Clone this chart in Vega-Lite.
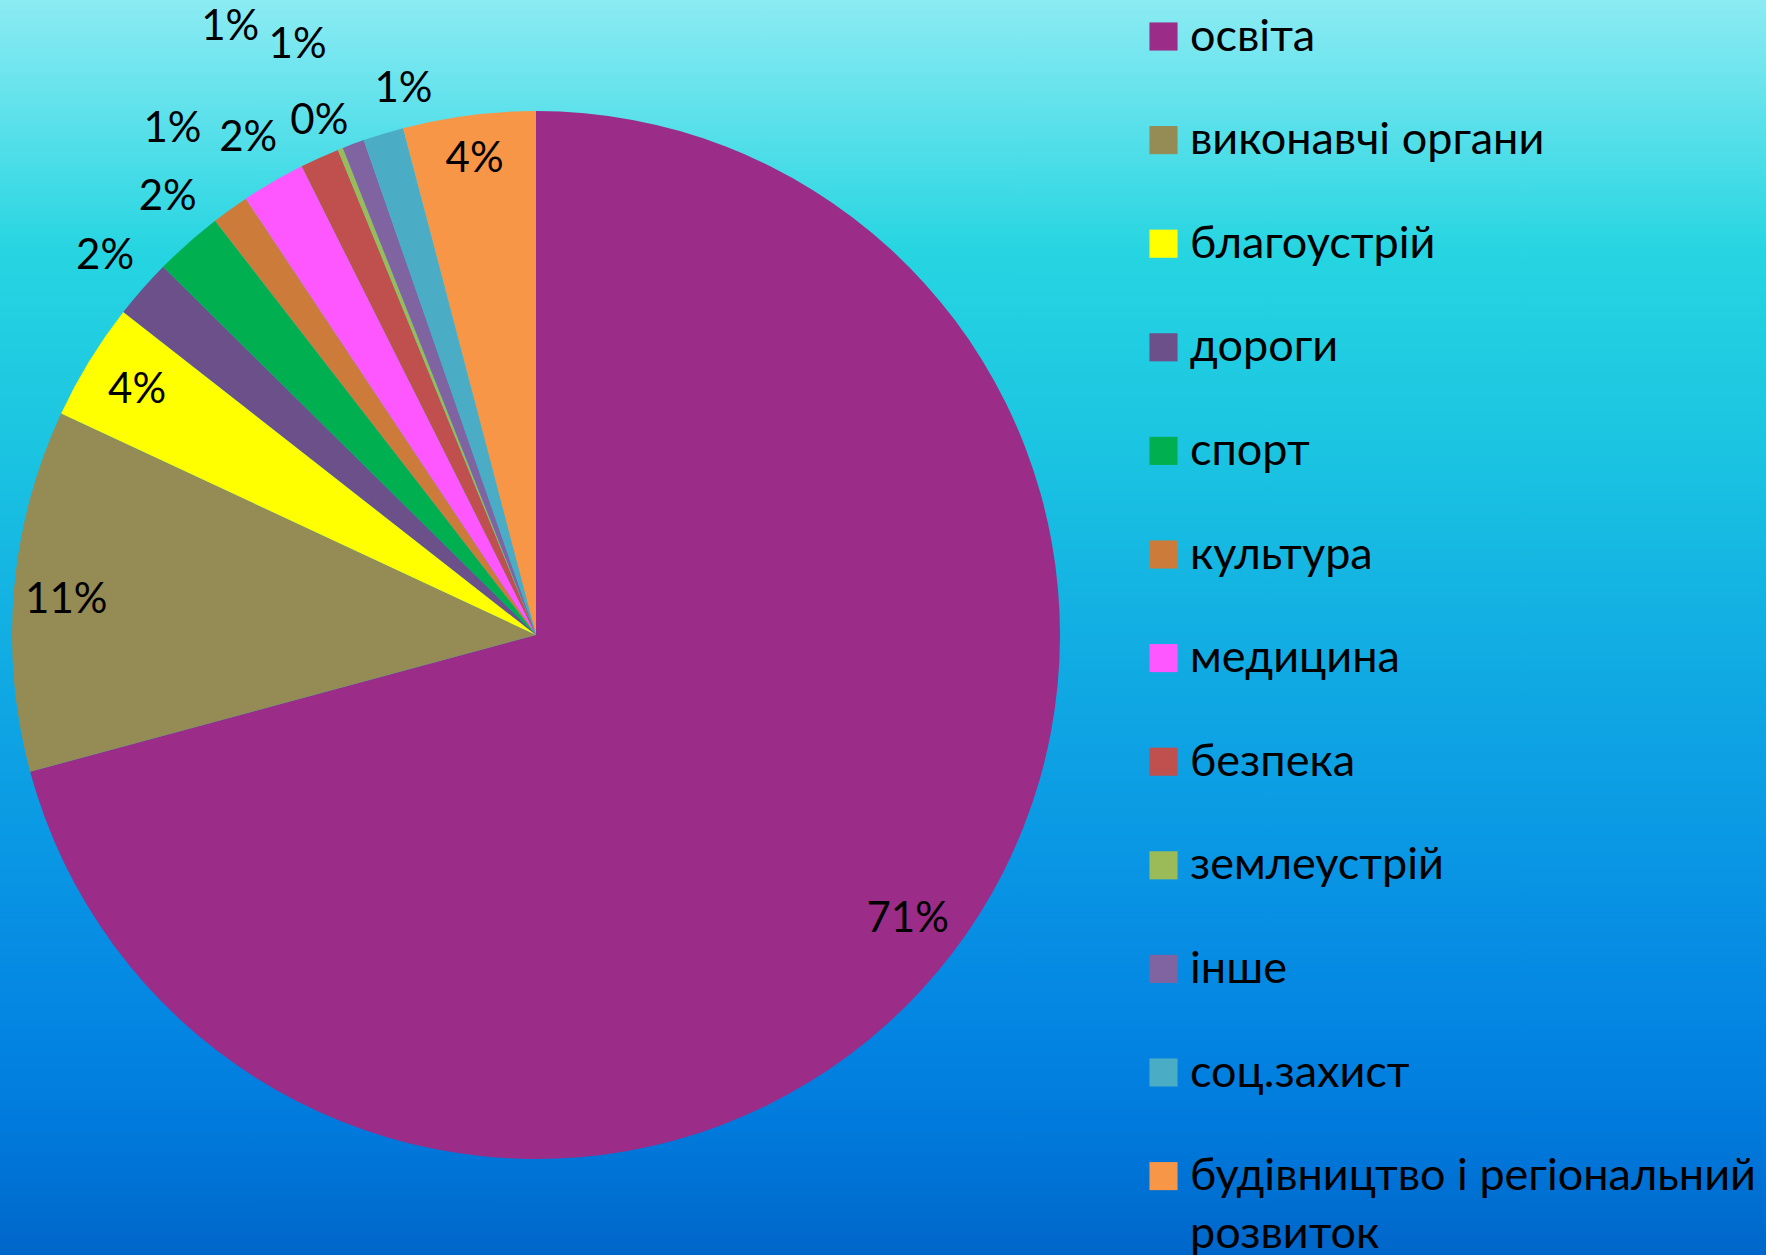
{
  "$schema": "https://vega.github.io/schema/vega-lite/v6.json",
  "width": 1766,
  "height": 1255,
  "autosize": {"type": "none"},
  "padding": 0,
  "config": {"view": {"stroke": null}, "font": "Lato"},
  "data": {
    "values": [
      {"idx": 1, "category": "освіта", "share": 0.7079},
      {"idx": 2, "category": "виконавчі органи", "share": 0.1115},
      {"idx": 3, "category": "благоустрій", "share": 0.0362},
      {"idx": 4, "category": "дороги", "share": 0.0183},
      {"idx": 5, "category": "спорт", "share": 0.0211},
      {"idx": 6, "category": "культура", "share": 0.0115},
      {"idx": 7, "category": "медицина", "share": 0.0196},
      {"idx": 8, "category": "безпека", "share": 0.0121},
      {"idx": 9, "category": "землеустрій", "share": 0.0016},
      {"idx": 10, "category": "інше", "share": 0.0068},
      {"idx": 11, "category": "соц.захист", "share": 0.0125},
      {"idx": 12, "category": "будівництво і регіональний розвиток", "share": 0.0408}
    ]
  },
  "layer": [
    {
      "data": {"values": [{}]},
      "mark": {
        "type": "rect",
        "fill": {
          "gradient": "linear", "x1": 0, "y1": 0, "x2": 0, "y2": 1,
          "stops": [
            {"offset": 0, "color": "#8CEBF3"},
            {"offset": 0.2, "color": "#26D5E1"},
            {"offset": 0.36, "color": "#1BC4E1"},
            {"offset": 0.5, "color": "#12AFE3"},
            {"offset": 0.67, "color": "#0A98E4"},
            {"offset": 0.81, "color": "#0486E3"},
            {"offset": 0.9, "color": "#007ADC"},
            {"offset": 1, "color": "#0066CA"}
          ]
        }
      },
      "encoding": {
        "x": {"value": 0}, "x2": {"value": "width"},
        "y": {"value": 0}, "y2": {"value": "height"}
      }
    },
    {
      "mark": {"type": "arc", "x": 536, "y": 635, "outerRadius": 524},
      "encoding": {
        "theta": {"field": "share", "type": "quantitative", "stack": true},
        "order": {"field": "idx", "type": "quantitative"},
        "color": {
          "field": "category", "type": "nominal",
          "scale": {
            "domain": ["освіта", "виконавчі органи", "благоустрій", "дороги", "спорт", "культура", "медицина", "безпека", "землеустрій", "інше", "соц.захист", "будівництво і регіональний розвиток"],
            "range": ["#9B2C87", "#958B55", "#FFFF00", "#6B5089", "#00B050", "#CC7B3A", "#FF57FF", "#C0504D", "#9BBB59", "#8064A2", "#4BACC6", "#F79646"]
          },
          "legend": {
            "orient": "none", "legendX": 1141, "legendY": 14, "title": null,
            "symbolType": "square", "symbolSize": 790, "symbolStrokeWidth": 0,
            "labelFont": "Lato", "labelFontSize": 45, "labelColor": "black",
            "labelLimit": 800, "labelOffset": 4, "rowPadding": 57.6, "padding": 0,
            "labelExpr": "datum.label == 'будівництво і регіональний розвиток' ? ['будівництво і регіональний', 'розвиток'] : datum.label",
            "encode": {"labels": {"update": {"lineHeight": {"value": 58}}}}
          }
        }
      }
    },
    {
      "mark": {"type": "text", "x": 536, "y": 635, "radius": 468, "font": "Lato", "fontSize": 42, "color": "black"},
      "encoding": {
        "theta": {"field": "share", "type": "quantitative", "stack": true},
        "order": {"field": "idx", "type": "quantitative"},
        "detail": {"field": "category", "type": "nominal"},
        "text": {"field": "share", "type": "quantitative", "format": ".0%"},
        "opacity": {"condition": {"test": "indexof(['освіта', 'благоустрій'], datum.category) >= 0", "value": 1}, "value": 0}
      }
    },
    {
      "mark": {"type": "text", "x": 536, "y": 635, "radius": 471, "thetaOffset": -0.012, "font": "Lato", "fontSize": 42, "color": "black"},
      "encoding": {
        "theta": {"field": "share", "type": "quantitative", "stack": true},
        "order": {"field": "idx", "type": "quantitative"},
        "detail": {"field": "category", "type": "nominal"},
        "text": {"field": "share", "type": "quantitative", "format": ".0%"},
        "opacity": {"condition": {"test": "datum.category == 'виконавчі органи'", "value": 1}, "value": 0}
      }
    },
    {
      "mark": {"type": "text", "x": 536, "y": 635, "radius": 480, "font": "Lato", "fontSize": 42, "color": "black"},
      "encoding": {
        "theta": {"field": "share", "type": "quantitative", "stack": true},
        "order": {"field": "idx", "type": "quantitative"},
        "detail": {"field": "category", "type": "nominal"},
        "text": {"field": "share", "type": "quantitative", "format": ".0%"},
        "opacity": {"condition": {"test": "datum.category == 'будівництво і регіональний розвиток'", "value": 1}, "value": 0}
      }
    },
    {
      "mark": {"type": "text", "x": 536, "y": 635, "radius": 574, "font": "Lato", "fontSize": 42, "color": "black"},
      "encoding": {
        "theta": {"field": "share", "type": "quantitative", "stack": true},
        "order": {"field": "idx", "type": "quantitative"},
        "detail": {"field": "category", "type": "nominal"},
        "text": {"field": "share", "type": "quantitative", "format": ".0%"},
        "opacity": {"condition": {"test": "indexof(['дороги', 'медицина'], datum.category) >= 0", "value": 1}, "value": 0}
      }
    },
    {
      "mark": {"type": "text", "x": 536, "y": 635, "radius": 572, "thetaOffset": 0.026, "font": "Lato", "fontSize": 42, "color": "black"},
      "encoding": {
        "theta": {"field": "share", "type": "quantitative", "stack": true},
        "order": {"field": "idx", "type": "quantitative"},
        "detail": {"field": "category", "type": "nominal"},
        "text": {"field": "share", "type": "quantitative", "format": ".0%"},
        "opacity": {"condition": {"test": "datum.category == 'спорт'", "value": 1}, "value": 0}
      }
    },
    {
      "mark": {"type": "text", "x": 536, "y": 635, "radius": 558, "thetaOffset": -0.016, "font": "Lato", "fontSize": 42, "color": "black"},
      "encoding": {
        "theta": {"field": "share", "type": "quantitative", "stack": true},
        "order": {"field": "idx", "type": "quantitative"},
        "detail": {"field": "category", "type": "nominal"},
        "text": {"field": "share", "type": "quantitative", "format": ".0%"},
        "opacity": {"condition": {"test": "datum.category == 'землеустрій'", "value": 1}, "value": 0}
      }
    },
    {
      "mark": {"type": "text", "x": 536, "y": 635, "radius": 562, "thetaOffset": 0.0576, "font": "Lato", "fontSize": 42, "color": "black"},
      "encoding": {
        "theta": {"field": "share", "type": "quantitative", "stack": true},
        "order": {"field": "idx", "type": "quantitative"},
        "detail": {"field": "category", "type": "nominal"},
        "text": {"field": "share", "type": "quantitative", "format": ".0%"},
        "opacity": {"condition": {"test": "datum.category == 'соц.захист'", "value": 1}, "value": 0}
      }
    },
    {
      "mark": {"type": "text", "x": 536, "y": 635, "radius": 623, "font": "Lato", "fontSize": 42, "color": "black"},
      "encoding": {
        "theta": {"field": "share", "type": "quantitative", "stack": true},
        "order": {"field": "idx", "type": "quantitative"},
        "detail": {"field": "category", "type": "nominal"},
        "text": {"field": "share", "type": "quantitative", "format": ".0%"},
        "opacity": {"condition": {"test": "datum.category == 'культура'", "value": 1}, "value": 0}
      }
    },
    {
      "mark": {"type": "text", "x": 536, "y": 635, "radius": 636, "thetaOffset": -0.028, "font": "Lato", "fontSize": 42, "color": "black"},
      "encoding": {
        "theta": {"field": "share", "type": "quantitative", "stack": true},
        "order": {"field": "idx", "type": "quantitative"},
        "detail": {"field": "category", "type": "nominal"},
        "text": {"field": "share", "type": "quantitative", "format": ".0%"},
        "opacity": {"condition": {"test": "datum.category == 'інше'", "value": 1}, "value": 0}
      }
    },
    {
      "mark": {"type": "text", "x": 536, "y": 635, "radius": 681, "thetaOffset": -0.04, "font": "Lato", "fontSize": 42, "color": "black"},
      "encoding": {
        "theta": {"field": "share", "type": "quantitative", "stack": true},
        "order": {"field": "idx", "type": "quantitative"},
        "detail": {"field": "category", "type": "nominal"},
        "text": {"field": "share", "type": "quantitative", "format": ".0%"},
        "opacity": {"condition": {"test": "datum.category == 'безпека'", "value": 1}, "value": 0}
      }
    }
  ]
}
